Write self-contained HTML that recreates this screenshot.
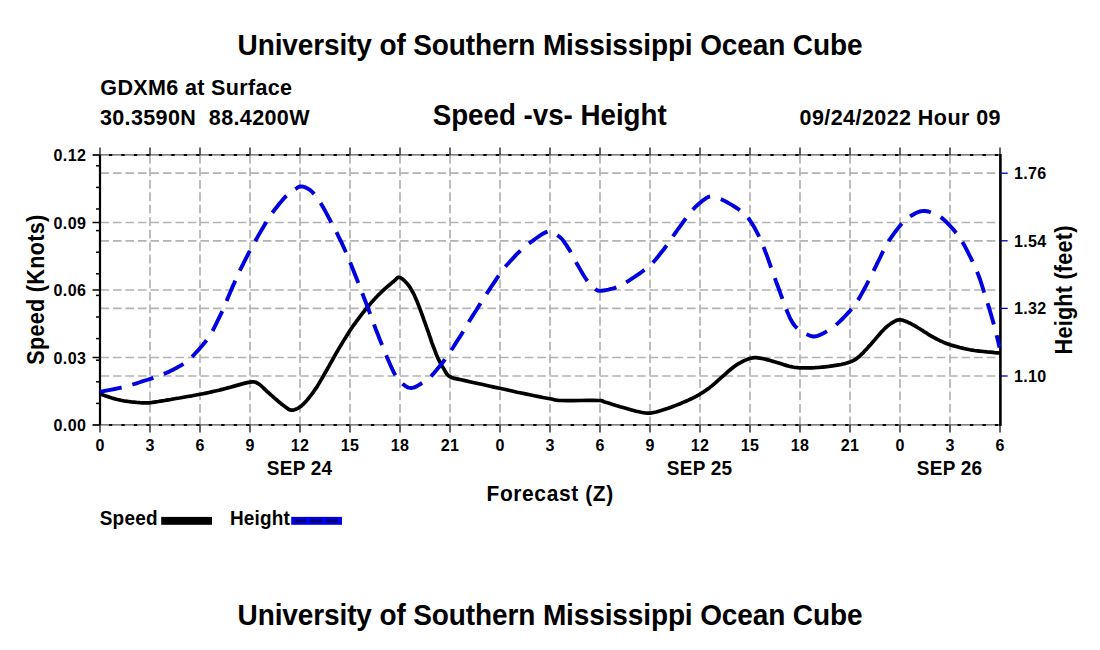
<!DOCTYPE html>
<html><head><meta charset="utf-8"><style>
html,body{margin:0;padding:0;background:#fff;}
svg{display:block;}
text{font-family:"Liberation Sans",sans-serif;font-weight:bold;fill:#000;}
</style></head><body>
<svg width="1100" height="650" viewBox="0 0 1100 650">
<rect width="1100" height="650" fill="#fff"/>
<line x1="150" y1="155" x2="150" y2="425" stroke="#b3b3b3" stroke-width="1.7" stroke-dasharray="8.8 3.65"/>
<line x1="200" y1="155" x2="200" y2="425" stroke="#b3b3b3" stroke-width="1.7" stroke-dasharray="8.8 3.65"/>
<line x1="250" y1="155" x2="250" y2="425" stroke="#b3b3b3" stroke-width="1.7" stroke-dasharray="8.8 3.65"/>
<line x1="300" y1="155" x2="300" y2="425" stroke="#b3b3b3" stroke-width="1.7" stroke-dasharray="8.8 3.65"/>
<line x1="350" y1="155" x2="350" y2="425" stroke="#b3b3b3" stroke-width="1.7" stroke-dasharray="8.8 3.65"/>
<line x1="400" y1="155" x2="400" y2="425" stroke="#b3b3b3" stroke-width="1.7" stroke-dasharray="8.8 3.65"/>
<line x1="450" y1="155" x2="450" y2="425" stroke="#b3b3b3" stroke-width="1.7" stroke-dasharray="8.8 3.65"/>
<line x1="500" y1="155" x2="500" y2="425" stroke="#b3b3b3" stroke-width="1.7" stroke-dasharray="8.8 3.65"/>
<line x1="550" y1="155" x2="550" y2="425" stroke="#b3b3b3" stroke-width="1.7" stroke-dasharray="8.8 3.65"/>
<line x1="600" y1="155" x2="600" y2="425" stroke="#b3b3b3" stroke-width="1.7" stroke-dasharray="8.8 3.65"/>
<line x1="650" y1="155" x2="650" y2="425" stroke="#b3b3b3" stroke-width="1.7" stroke-dasharray="8.8 3.65"/>
<line x1="700" y1="155" x2="700" y2="425" stroke="#b3b3b3" stroke-width="1.7" stroke-dasharray="8.8 3.65"/>
<line x1="750" y1="155" x2="750" y2="425" stroke="#b3b3b3" stroke-width="1.7" stroke-dasharray="8.8 3.65"/>
<line x1="800" y1="155" x2="800" y2="425" stroke="#b3b3b3" stroke-width="1.7" stroke-dasharray="8.8 3.65"/>
<line x1="850" y1="155" x2="850" y2="425" stroke="#b3b3b3" stroke-width="1.7" stroke-dasharray="8.8 3.65"/>
<line x1="900" y1="155" x2="900" y2="425" stroke="#b3b3b3" stroke-width="1.7" stroke-dasharray="8.8 3.65"/>
<line x1="950" y1="155" x2="950" y2="425" stroke="#b3b3b3" stroke-width="1.7" stroke-dasharray="8.8 3.65"/>
<line x1="100.5" y1="357.5" x2="1000" y2="357.5" stroke="#b3b3b3" stroke-width="1.7" stroke-dasharray="8.6 3.88"/>
<line x1="100.5" y1="290.0" x2="1000" y2="290.0" stroke="#b3b3b3" stroke-width="1.7" stroke-dasharray="8.6 3.88"/>
<line x1="100.5" y1="222.5" x2="1000" y2="222.5" stroke="#b3b3b3" stroke-width="1.7" stroke-dasharray="8.6 3.88"/>
<line x1="100.5" y1="173.2" x2="1000" y2="173.2" stroke="#b3b3b3" stroke-width="1.7" stroke-dasharray="8.6 3.88"/>
<line x1="100.5" y1="240.79999999999995" x2="1000" y2="240.79999999999995" stroke="#b3b3b3" stroke-width="1.7" stroke-dasharray="8.6 3.88"/>
<line x1="100.5" y1="308.4" x2="1000" y2="308.4" stroke="#b3b3b3" stroke-width="1.7" stroke-dasharray="8.6 3.88"/>
<line x1="100.5" y1="375.99999999999994" x2="1000" y2="375.99999999999994" stroke="#b3b3b3" stroke-width="1.7" stroke-dasharray="8.6 3.88"/>
<line x1="93" y1="154.8" x2="1000" y2="154.8" stroke="#585858" stroke-width="1.2"/>
<line x1="100" y1="155" x2="1000" y2="155" stroke="#000" stroke-width="2.2" stroke-dasharray="3.3 9.18" stroke-dashoffset="-8.9"/>
<line x1="93" y1="424.8" x2="1000" y2="424.8" stroke="#585858" stroke-width="1.2"/>
<line x1="100" y1="425" x2="1000" y2="425" stroke="#000" stroke-width="2.2" stroke-dasharray="3.3 9.18" stroke-dashoffset="-8.9"/>
<line x1="100" y1="147.5" x2="100" y2="155" stroke="#333" stroke-width="1.5"/>
<line x1="100" y1="425" x2="100" y2="432.5" stroke="#333" stroke-width="1.5"/>
<line x1="150" y1="147.5" x2="150" y2="155" stroke="#333" stroke-width="1.5"/>
<line x1="150" y1="425" x2="150" y2="432.5" stroke="#333" stroke-width="1.5"/>
<line x1="200" y1="147.5" x2="200" y2="155" stroke="#333" stroke-width="1.5"/>
<line x1="200" y1="425" x2="200" y2="432.5" stroke="#333" stroke-width="1.5"/>
<line x1="250" y1="147.5" x2="250" y2="155" stroke="#333" stroke-width="1.5"/>
<line x1="250" y1="425" x2="250" y2="432.5" stroke="#333" stroke-width="1.5"/>
<line x1="300" y1="147.5" x2="300" y2="155" stroke="#333" stroke-width="1.5"/>
<line x1="300" y1="425" x2="300" y2="432.5" stroke="#333" stroke-width="1.5"/>
<line x1="350" y1="147.5" x2="350" y2="155" stroke="#333" stroke-width="1.5"/>
<line x1="350" y1="425" x2="350" y2="432.5" stroke="#333" stroke-width="1.5"/>
<line x1="400" y1="147.5" x2="400" y2="155" stroke="#333" stroke-width="1.5"/>
<line x1="400" y1="425" x2="400" y2="432.5" stroke="#333" stroke-width="1.5"/>
<line x1="450" y1="147.5" x2="450" y2="155" stroke="#333" stroke-width="1.5"/>
<line x1="450" y1="425" x2="450" y2="432.5" stroke="#333" stroke-width="1.5"/>
<line x1="500" y1="147.5" x2="500" y2="155" stroke="#333" stroke-width="1.5"/>
<line x1="500" y1="425" x2="500" y2="432.5" stroke="#333" stroke-width="1.5"/>
<line x1="550" y1="147.5" x2="550" y2="155" stroke="#333" stroke-width="1.5"/>
<line x1="550" y1="425" x2="550" y2="432.5" stroke="#333" stroke-width="1.5"/>
<line x1="600" y1="147.5" x2="600" y2="155" stroke="#333" stroke-width="1.5"/>
<line x1="600" y1="425" x2="600" y2="432.5" stroke="#333" stroke-width="1.5"/>
<line x1="650" y1="147.5" x2="650" y2="155" stroke="#333" stroke-width="1.5"/>
<line x1="650" y1="425" x2="650" y2="432.5" stroke="#333" stroke-width="1.5"/>
<line x1="700" y1="147.5" x2="700" y2="155" stroke="#333" stroke-width="1.5"/>
<line x1="700" y1="425" x2="700" y2="432.5" stroke="#333" stroke-width="1.5"/>
<line x1="750" y1="147.5" x2="750" y2="155" stroke="#333" stroke-width="1.5"/>
<line x1="750" y1="425" x2="750" y2="432.5" stroke="#333" stroke-width="1.5"/>
<line x1="800" y1="147.5" x2="800" y2="155" stroke="#333" stroke-width="1.5"/>
<line x1="800" y1="425" x2="800" y2="432.5" stroke="#333" stroke-width="1.5"/>
<line x1="850" y1="147.5" x2="850" y2="155" stroke="#333" stroke-width="1.5"/>
<line x1="850" y1="425" x2="850" y2="432.5" stroke="#333" stroke-width="1.5"/>
<line x1="900" y1="147.5" x2="900" y2="155" stroke="#333" stroke-width="1.5"/>
<line x1="900" y1="425" x2="900" y2="432.5" stroke="#333" stroke-width="1.5"/>
<line x1="950" y1="147.5" x2="950" y2="155" stroke="#333" stroke-width="1.5"/>
<line x1="950" y1="425" x2="950" y2="432.5" stroke="#333" stroke-width="1.5"/>
<line x1="1000" y1="147.5" x2="1000" y2="155" stroke="#333" stroke-width="1.5"/>
<line x1="1000" y1="425" x2="1000" y2="432.5" stroke="#333" stroke-width="1.5"/>
<line x1="100" y1="155" x2="100" y2="425" stroke="#000" stroke-width="2.2"/>
<line x1="92.5" y1="425.0" x2="100" y2="425.0" stroke="#000" stroke-width="1.5"/>
<line x1="92.5" y1="357.5" x2="100" y2="357.5" stroke="#000" stroke-width="1.5"/>
<line x1="92.5" y1="290.0" x2="100" y2="290.0" stroke="#000" stroke-width="1.5"/>
<line x1="92.5" y1="222.5" x2="100" y2="222.5" stroke="#000" stroke-width="1.5"/>
<line x1="92.5" y1="155.0" x2="100" y2="155.0" stroke="#000" stroke-width="1.5"/>
<line x1="96" y1="403.4" x2="100" y2="403.4" stroke="#000" stroke-width="1.5"/>
<line x1="96" y1="381.8" x2="100" y2="381.8" stroke="#000" stroke-width="1.5"/>
<line x1="96" y1="360.2" x2="100" y2="360.2" stroke="#000" stroke-width="1.5"/>
<line x1="96" y1="338.6" x2="100" y2="338.6" stroke="#000" stroke-width="1.5"/>
<line x1="96" y1="317.0" x2="100" y2="317.0" stroke="#000" stroke-width="1.5"/>
<line x1="96" y1="295.4" x2="100" y2="295.4" stroke="#000" stroke-width="1.5"/>
<line x1="96" y1="273.8" x2="100" y2="273.8" stroke="#000" stroke-width="1.5"/>
<line x1="96" y1="252.2" x2="100" y2="252.2" stroke="#000" stroke-width="1.5"/>
<line x1="96" y1="230.6" x2="100" y2="230.6" stroke="#000" stroke-width="1.5"/>
<line x1="96" y1="209.0" x2="100" y2="209.0" stroke="#000" stroke-width="1.5"/>
<line x1="96" y1="187.4" x2="100" y2="187.4" stroke="#000" stroke-width="1.5"/>
<line x1="96" y1="165.8" x2="100" y2="165.8" stroke="#000" stroke-width="1.5"/>
<line x1="1000.4" y1="154" x2="1000.4" y2="426" stroke="#000" stroke-width="2.6"/>
<line x1="1000" y1="173.2" x2="1007.7" y2="173.2" stroke="#0000a0" stroke-width="1.3"/>
<line x1="1000" y1="240.79999999999995" x2="1007.7" y2="240.79999999999995" stroke="#0000a0" stroke-width="1.3"/>
<line x1="1000" y1="308.4" x2="1007.7" y2="308.4" stroke="#0000a0" stroke-width="1.3"/>
<line x1="1000" y1="375.99999999999994" x2="1007.7" y2="375.99999999999994" stroke="#0000a0" stroke-width="1.3"/>
<path d="M100.0,393.8 L101.3,394.3 L103.0,394.9 L105.1,395.7 L107.4,396.5 L109.7,397.3 L111.9,398.0 L114.1,398.6 L116.3,399.2 L118.5,399.7 L120.8,400.3 L123.2,400.7 L125.7,401.2 L128.4,401.5 L131.3,401.9 L134.3,402.2 L137.3,402.5 L140.0,402.7 L142.3,402.8 L144.1,402.9 L145.5,402.9 L146.7,402.9 L147.9,402.9 L149.1,402.8 L150.6,402.6 L152.4,402.4 L154.3,402.1 L156.3,401.8 L158.4,401.5 L160.5,401.1 L162.6,400.8 L164.6,400.5 L166.6,400.1 L168.6,399.8 L170.7,399.5 L173.1,399.0 L176.0,398.5 L179.5,398.0 L183.5,397.3 L187.7,396.5 L192.1,395.8 L196.2,395.0 L199.9,394.3 L203.1,393.7 L206.1,393.1 L208.9,392.5 L211.5,391.9 L214.1,391.3 L216.6,390.7 L219.0,390.2 L221.2,389.6 L223.3,389.1 L225.5,388.5 L227.8,387.9 L230.4,387.2 L233.4,386.4 L236.9,385.4 L240.5,384.4 L244.0,383.4 L247.2,382.6 L249.8,382.1 L251.8,381.9 L253.3,381.8 L254.6,382.0 L255.6,382.3 L256.7,382.8 L258.0,383.5 L259.4,384.4 L260.9,385.6 L262.4,387.0 L263.9,388.4 L265.4,389.9 L266.9,391.3 L268.3,392.5 L269.8,393.8 L271.2,395.1 L272.6,396.3 L274.0,397.6 L275.4,398.8 L276.8,400.0 L278.3,401.3 L279.7,402.5 L281.1,403.7 L282.5,404.8 L283.9,405.8 L285.2,406.7 L286.5,407.7 L287.7,408.6 L288.9,409.4 L290.2,409.9 L291.5,410.2 L292.9,410.2 L294.3,409.8 L295.7,409.3 L297.2,408.6 L298.6,407.8 L300.0,406.9 L301.4,405.9 L302.7,404.7 L304.1,403.3 L305.4,401.9 L306.8,400.4 L308.1,398.8 L309.5,397.2 L310.8,395.5 L312.2,393.6 L313.5,391.8 L314.9,389.8 L316.2,387.9 L317.5,385.9 L318.7,383.9 L320.0,381.8 L321.2,379.7 L322.5,377.5 L323.7,375.4 L324.9,373.2 L326.2,371.0 L327.4,368.8 L328.7,366.6 L329.9,364.4 L331.2,362.1 L332.4,360.0 L333.6,357.9 L334.7,355.8 L335.9,353.6 L337.3,351.3 L338.8,348.7 L340.6,345.7 L342.6,342.4 L344.7,338.9 L346.9,335.5 L348.9,332.2 L350.8,329.3 L352.4,326.9 L354.0,324.7 L355.4,322.8 L356.7,321.0 L358.1,319.2 L359.4,317.4 L360.7,315.7 L361.9,314.1 L363.1,312.5 L364.4,311.0 L365.6,309.5 L366.9,307.9 L368.3,306.3 L369.7,304.6 L371.1,302.9 L372.6,301.2 L374.1,299.6 L375.6,297.9 L377.2,296.3 L378.8,294.6 L380.5,293.0 L382.1,291.4 L383.7,289.9 L385.3,288.4 L386.8,287.1 L388.4,285.7 L389.9,284.5 L391.3,283.3 L392.6,282.2 L393.9,281.2 L395.0,280.2 L395.9,279.2 L396.7,278.4 L397.6,277.7 L398.5,277.3 L399.6,277.4 L400.9,278.0 L402.3,278.9 L403.9,280.2 L405.4,281.7 L406.9,283.3 L408.3,285.0 L409.6,286.8 L410.8,288.7 L412.0,290.9 L413.2,293.0 L414.3,295.2 L415.3,297.4 L416.2,299.4 L417.1,301.4 L417.8,303.3 L418.6,305.4 L419.5,307.7 L420.4,310.2 L421.5,313.1 L422.7,316.4 L423.9,319.9 L425.2,323.4 L426.4,326.8 L427.5,329.9 L428.5,332.7 L429.4,335.4 L430.3,337.9 L431.1,340.4 L431.9,342.8 L432.8,345.1 L433.7,347.5 L434.6,349.9 L435.5,352.2 L436.3,354.4 L437.2,356.6 L438.1,358.6 L439.0,360.4 L439.8,362.1 L440.7,363.6 L441.6,365.1 L442.5,366.6 L443.4,368.1 L444.3,369.6 L445.1,371.1 L445.9,372.6 L446.8,374.0 L448.0,375.4 L449.6,376.5 L451.4,377.4 L453.3,378.1 L455.5,378.6 L458.1,379.1 L461.2,379.7 L465.0,380.6 L469.7,381.7 L475.4,383.0 L481.6,384.3 L487.9,385.7 L494.0,387.1 L499.5,388.3 L504.3,389.3 L508.8,390.3 L513.1,391.3 L517.2,392.2 L521.3,393.0 L525.5,393.9 L529.8,394.8 L534.3,395.7 L538.8,396.6 L543.0,397.5 L546.9,398.2 L550.2,398.8 L552.6,399.3 L554.1,399.7 L555.3,400.0 L556.6,400.2 L558.6,400.4 L561.8,400.5 L566.8,400.6 L573.2,400.6 L580.3,400.5 L587.3,400.4 L593.5,400.4 L598.2,400.5 L600.9,400.6 L602.2,400.8 L602.8,401.0 L603.1,401.2 L603.8,401.7 L605.5,402.2 L608.4,403.1 L612.0,404.2 L616.0,405.4 L620.1,406.7 L624.0,407.8 L627.5,408.8 L630.6,409.7 L633.5,410.5 L636.2,411.2 L638.8,411.8 L641.2,412.3 L643.5,412.7 L645.4,413.0 L647.0,413.1 L648.5,413.2 L649.9,413.1 L651.6,412.9 L653.6,412.5 L656.1,412.0 L658.9,411.2 L661.9,410.3 L665.0,409.3 L668.1,408.3 L671.1,407.2 L674.1,406.1 L677.1,404.9 L680.2,403.7 L683.1,402.4 L685.9,401.2 L688.5,400.1 L690.8,399.0 L692.8,398.1 L694.7,397.1 L696.5,396.2 L698.3,395.2 L700.2,394.0 L702.1,392.8 L704.1,391.6 L706.0,390.2 L707.9,388.9 L709.9,387.4 L711.8,385.9 L713.7,384.3 L715.6,382.7 L717.6,380.9 L719.5,379.2 L721.5,377.4 L723.5,375.6 L725.6,373.8 L727.7,371.9 L729.9,370.0 L732.1,368.2 L734.3,366.5 L736.5,364.9 L738.7,363.6 L741.0,362.3 L743.2,361.1 L745.4,360.1 L747.6,359.2 L749.6,358.5 L751.4,358.1 L753.0,357.8 L754.6,357.7 L756.2,357.7 L757.9,357.9 L759.8,358.1 L762.0,358.5 L764.4,359.0 L766.9,359.6 L769.4,360.3 L772.0,361.1 L774.5,361.8 L777.0,362.5 L779.5,363.3 L782.0,364.1 L784.5,364.9 L786.9,365.6 L789.1,366.2 L791.0,366.6 L792.7,367.0 L794.3,367.3 L796.0,367.5 L797.8,367.7 L800.0,367.8 L802.6,367.9 L805.4,367.9 L808.5,367.9 L811.7,367.8 L815.0,367.7 L818.2,367.5 L821.6,367.2 L825.1,366.8 L828.8,366.4 L832.3,365.9 L835.6,365.4 L838.5,364.9 L841.0,364.5 L843.1,364.0 L845.1,363.6 L846.8,363.1 L848.5,362.5 L850.2,361.9 L851.8,361.2 L853.2,360.6 L854.6,359.9 L855.9,359.1 L857.3,358.0 L858.9,356.8 L860.6,355.2 L862.5,353.4 L864.4,351.3 L866.4,349.2 L868.4,346.9 L870.5,344.7 L872.6,342.3 L874.9,339.6 L877.2,336.9 L879.5,334.2 L881.6,331.8 L883.6,329.7 L885.3,328.0 L886.9,326.6 L888.3,325.4 L889.7,324.4 L891.0,323.4 L892.4,322.6 L893.7,321.8 L895.0,321.1 L896.2,320.5 L897.5,320.1 L898.8,319.9 L900.2,319.8 L901.7,320.0 L903.3,320.4 L905.0,321.0 L906.6,321.7 L908.3,322.5 L910.0,323.2 L911.7,324.1 L913.3,325.0 L915.0,325.9 L916.7,327.0 L918.3,328.0 L920.0,329.0 L921.7,330.0 L923.3,331.1 L925.0,332.2 L926.7,333.2 L928.3,334.3 L930.0,335.3 L931.7,336.3 L933.3,337.2 L935.0,338.1 L936.7,339.0 L938.3,339.9 L940.0,340.7 L941.6,341.4 L943.1,342.1 L944.7,342.8 L946.3,343.4 L948.0,344.0 L950.0,344.7 L952.2,345.4 L954.6,346.1 L957.2,346.8 L959.8,347.5 L962.4,348.1 L965.0,348.7 L967.4,349.2 L969.8,349.7 L972.2,350.1 L974.6,350.5 L977.2,350.8 L980.0,351.2 L983.3,351.5 L987.0,351.9 L990.9,352.2 L994.6,352.6 L997.8,352.8 L1000.0,353.0" fill="none" stroke="#000" stroke-width="3.7" stroke-linejoin="round"/>
<path d="M100.0,391.9 L102.5,391.4 L106.1,390.7 L110.3,389.9 L114.7,389.0 L118.7,388.1 L122.0,387.4 L124.3,386.9 L126.0,386.5 L127.4,386.1 L128.7,385.7 L130.4,385.2 L132.6,384.5 L135.6,383.6 L139.1,382.5 L143.0,381.2 L146.8,380.0 L150.4,378.8 L153.4,377.8 L155.9,376.9 L158.0,376.1 L159.9,375.4 L161.6,374.7 L163.1,374.1 L164.5,373.6 L165.7,373.1 L166.7,372.7 L167.4,372.4 L168.2,372.1 L169.0,371.7 L170.0,371.2 L171.2,370.6 L172.6,369.9 L174.0,369.2 L175.4,368.4 L176.8,367.7 L178.0,367.0 L179.1,366.4 L180.0,365.9 L180.8,365.5 L181.7,364.9 L182.7,364.3 L183.8,363.5 L185.1,362.5 L186.4,361.5 L187.9,360.4 L189.5,359.1 L191.2,357.6 L193.0,355.8 L195.1,353.5 L197.6,350.9 L200.1,348.0 L202.7,345.1 L205.0,342.3 L206.9,339.9 L208.3,338.1 L209.4,336.6 L210.2,335.3 L211.0,333.9 L211.9,332.3 L213.0,330.2 L214.4,327.4 L216.0,324.2 L217.7,320.6 L219.4,317.1 L221.0,313.8 L222.3,311.0 L223.3,308.8 L224.0,307.1 L224.7,305.6 L225.3,304.1 L226.0,302.4 L226.9,300.2 L228.1,297.3 L229.5,294.0 L231.0,290.5 L232.5,286.9 L234.0,283.6 L235.2,280.7 L236.2,278.5 L237.0,276.7 L237.7,275.2 L238.4,273.6 L239.2,271.9 L240.3,269.7 L241.6,267.0 L243.2,263.9 L244.8,260.6 L246.5,257.3 L248.1,254.1 L249.6,251.3 L250.8,249.0 L251.9,247.0 L252.9,245.1 L254.0,243.3 L255.1,241.3 L256.4,239.1 L257.9,236.4 L259.6,233.4 L261.4,230.3 L263.3,227.2 L265.0,224.3 L266.5,221.8 L267.8,219.7 L268.8,218.0 L269.8,216.5 L270.8,215.0 L271.9,213.4 L273.3,211.5 L275.0,209.3 L277.0,206.7 L279.1,204.0 L281.3,201.4 L283.5,198.9 L285.5,196.7 L287.5,194.9 L289.5,193.2 L291.4,191.7 L293.3,190.4 L295.0,189.2 L296.5,188.3 L297.7,187.5 L298.7,187.0 L299.5,186.7 L300.2,186.5 L301.0,186.5 L301.9,186.5 L302.9,186.6 L303.9,186.9 L305.0,187.2 L306.0,187.7 L307.1,188.2 L308.1,188.8 L309.1,189.4 L310.1,190.1 L311.1,190.9 L312.1,191.8 L313.1,192.9 L314.2,194.1 L315.4,195.5 L316.6,197.1 L317.8,198.9 L319.2,200.8 L320.5,202.9 L321.9,205.2 L323.4,207.7 L325.0,210.6 L326.6,213.7 L328.3,216.8 L329.8,219.7 L331.2,222.3 L332.4,224.4 L333.4,226.3 L334.3,227.9 L335.2,229.6 L336.1,231.5 L337.3,233.9 L338.6,236.6 L340.1,239.5 L341.6,242.7 L343.1,246.0 L344.8,249.7 L346.5,253.6 L348.3,257.8 L350.2,262.5 L352.2,267.5 L354.2,272.5 L356.2,277.4 L358.0,282.1 L359.7,286.5 L361.3,290.6 L362.9,294.7 L364.4,298.8 L366.1,303.1 L367.8,307.7 L369.7,312.6 L371.6,317.8 L373.6,323.2 L375.6,328.7 L377.8,334.2 L379.9,339.7 L382.2,345.3 L384.6,351.3 L387.0,357.3 L389.5,363.0 L391.8,368.2 L393.8,372.4 L395.6,375.6 L397.1,378.1 L398.6,380.0 L399.9,381.4 L401.3,382.7 L402.7,383.9 L404.2,385.1 L405.6,386.2 L407.0,387.0 L408.4,387.6 L409.9,387.9 L411.5,388.0 L413.2,387.7 L415.0,387.1 L416.8,386.2 L418.6,385.1 L420.5,384.0 L422.2,382.9 L423.8,381.9 L425.4,380.8 L426.9,379.8 L428.4,378.5 L430.1,377.1 L431.9,375.3 L434.0,373.0 L436.3,370.3 L438.8,367.3 L441.2,364.3 L443.4,361.5 L445.2,359.1 L446.6,357.3 L447.6,355.9 L448.4,354.8 L449.1,353.5 L450.1,352.0 L451.4,350.0 L453.2,347.2 L455.3,343.9 L457.6,340.3 L460.0,336.7 L462.1,333.3 L463.8,330.6 L465.0,328.5 L465.9,327.0 L466.6,325.8 L467.2,324.6 L468.1,323.2 L469.2,321.3 L470.8,318.8 L472.6,315.9 L474.6,312.7 L476.7,309.5 L478.6,306.4 L480.3,303.8 L481.7,301.6 L482.9,299.7 L484.0,297.9 L485.1,296.2 L486.3,294.3 L487.7,292.2 L489.4,289.6 L491.2,286.8 L493.2,283.8 L495.2,280.8 L497.0,278.1 L498.7,275.6 L500.1,273.7 L501.2,272.1 L502.2,270.7 L503.2,269.3 L504.5,267.7 L506.1,265.8 L508.2,263.5 L510.7,260.7 L513.4,257.8 L516.1,254.9 L518.7,252.3 L520.9,250.1 L522.7,248.4 L524.0,247.1 L525.3,246.1 L526.6,245.1 L528.1,244.0 L530.1,242.6 L532.7,240.8 L535.8,238.5 L539.2,236.2 L542.5,234.0 L545.6,232.3 L548.3,231.3 L550.5,231.1 L552.3,231.6 L554.0,232.4 L555.4,233.6 L556.8,234.7 L558.1,235.7 L559.3,236.6 L560.3,237.4 L561.2,238.3 L562.1,239.2 L563.0,240.4 L564.0,241.7 L565.1,243.3 L566.4,245.1 L567.6,247.1 L568.9,249.1 L570.1,251.1 L571.2,253.0 L572.1,254.6 L572.9,256.1 L573.6,257.5 L574.3,259.1 L575.2,260.8 L576.4,262.9 L577.9,265.4 L579.6,268.4 L581.4,271.6 L583.4,274.9 L585.2,277.8 L586.9,280.3 L588.5,282.3 L590.0,284.1 L591.5,285.7 L592.9,287.0 L594.2,288.1 L595.4,289.1 L596.4,289.8 L597.2,290.3 L597.9,290.6 L598.7,290.7 L599.5,290.8 L600.6,290.8 L602.0,290.7 L603.5,290.5 L605.2,290.3 L606.9,289.9 L608.5,289.6 L610.0,289.2 L611.2,288.9 L612.3,288.7 L613.3,288.4 L614.4,288.1 L615.5,287.6 L616.8,287.1 L618.2,286.5 L619.6,285.8 L621.2,285.1 L622.9,284.2 L624.8,283.2 L627.0,281.8 L629.7,280.1 L633.0,278.0 L636.4,275.6 L639.8,273.3 L643.0,271.0 L645.6,269.1 L647.5,267.6 L649.0,266.5 L650.2,265.4 L651.3,264.4 L652.5,263.0 L654.1,261.3 L656.1,258.9 L658.5,256.0 L661.0,252.8 L663.5,249.7 L665.7,246.8 L667.6,244.3 L668.9,242.5 L669.9,241.1 L670.6,240.0 L671.3,238.8 L672.2,237.4 L673.5,235.5 L675.3,233.0 L677.4,230.0 L679.7,226.8 L682.1,223.6 L684.3,220.5 L686.2,218.0 L687.7,215.9 L689.0,214.2 L690.1,212.8 L691.2,211.4 L692.4,210.0 L693.8,208.6 L695.4,206.9 L697.3,205.2 L699.2,203.5 L701.1,201.9 L702.9,200.4 L704.5,199.3 L705.8,198.4 L707.0,197.6 L708.0,197.1 L709.1,196.7 L710.3,196.5 L711.7,196.5 L713.4,196.7 L715.1,197.1 L717.1,197.7 L719.1,198.4 L721.3,199.3 L723.6,200.4 L726.2,201.8 L729.1,203.4 L732.1,205.1 L735.1,207.0 L737.9,208.8 L740.3,210.6 L742.3,212.1 L744.0,213.6 L745.5,215.0 L747.0,216.6 L748.4,218.3 L749.9,220.3 L751.5,222.7 L753.2,225.4 L754.8,228.3 L756.4,231.3 L758.0,234.3 L759.4,237.3 L760.7,240.2 L762.0,243.0 L763.1,245.9 L764.3,248.8 L765.4,251.8 L766.6,254.9 L767.8,258.1 L768.9,261.3 L770.1,264.6 L771.2,267.9 L772.5,271.5 L773.8,275.2 L775.3,279.3 L776.9,283.8 L778.7,288.5 L780.3,293.1 L781.8,297.2 L783.1,300.6 L784.0,303.2 L784.7,305.1 L785.3,306.6 L785.8,307.9 L786.3,309.2 L786.9,310.7 L787.6,312.4 L788.3,314.1 L789.1,315.9 L789.8,317.6 L790.7,319.3 L791.5,320.8 L792.3,322.2 L793.2,323.6 L794.0,324.8 L795.0,326.0 L796.1,327.2 L797.3,328.4 L798.8,329.6 L800.5,330.8 L802.4,331.9 L804.2,333.0 L806.0,334.0 L807.7,334.7 L809.1,335.3 L810.4,335.9 L811.7,336.2 L812.9,336.5 L814.3,336.5 L815.8,336.3 L817.5,335.8 L819.4,335.1 L821.4,334.2 L823.4,333.2 L825.4,332.1 L827.3,331.0 L829.1,329.9 L830.7,328.9 L832.4,327.8 L834.0,326.5 L835.8,325.1 L837.7,323.4 L839.9,321.4 L842.3,319.0 L844.7,316.5 L847.2,313.9 L849.5,311.4 L851.5,309.0 L853.2,307.0 L854.6,305.1 L855.8,303.4 L857.0,301.6 L858.3,299.6 L859.6,297.4 L861.1,294.8 L862.7,291.9 L864.4,288.8 L866.0,285.8 L867.5,282.9 L868.8,280.4 L869.9,278.3 L870.8,276.5 L871.5,275.0 L872.3,273.4 L873.2,271.6 L874.3,269.4 L875.7,266.6 L877.2,263.4 L878.9,260.0 L880.6,256.5 L882.1,253.3 L883.5,250.6 L884.6,248.5 L885.4,246.8 L886.1,245.4 L886.8,244.0 L887.8,242.4 L889.1,240.4 L890.9,237.9 L893.0,234.9 L895.3,231.7 L897.7,228.6 L900.0,225.7 L902.0,223.3 L903.7,221.5 L905.3,220.0 L906.8,218.7 L908.2,217.7 L909.6,216.7 L911.2,215.7 L912.9,214.7 L914.6,213.7 L916.4,212.8 L918.2,212.1 L920.0,211.5 L921.7,211.1 L923.4,210.9 L925.0,211.0 L926.6,211.2 L928.2,211.5 L929.8,212.0 L931.5,212.6 L933.2,213.2 L935.0,213.9 L936.8,214.7 L938.6,215.7 L940.5,217.0 L942.4,218.4 L944.5,220.2 L946.7,222.3 L948.9,224.6 L951.1,227.0 L953.2,229.4 L955.1,231.6 L956.8,233.7 L958.3,235.7 L959.7,237.7 L961.0,239.8 L962.3,241.9 L963.7,244.3 L965.2,246.9 L966.6,249.7 L968.1,252.6 L969.6,255.5 L971.0,258.4 L972.3,261.1 L973.5,263.7 L974.6,266.1 L975.7,268.5 L976.7,270.9 L977.7,273.3 L978.7,275.8 L979.7,278.5 L980.6,281.2 L981.5,284.0 L982.4,286.8 L983.3,289.5 L984.1,292.1 L984.9,294.5 L985.6,296.7 L986.2,298.8 L986.9,301.0 L987.6,303.3 L988.4,305.8 L989.3,308.6 L990.2,311.8 L991.2,315.1 L992.1,318.3 L993.0,321.4 L993.8,324.2 L994.5,326.7 L995.1,328.9 L995.6,331.0 L996.1,332.9 L996.5,334.9 L997.0,336.8 L997.5,338.8 L998.0,340.9 L998.5,342.9 L998.9,344.8 L999.2,346.4 L999.5,347.5" fill="none" stroke="#0000e0" stroke-width="3.9" stroke-dasharray="22.1 11.08"/>
<text transform="translate(237.60,54.90) scale(0.94,1)" font-size="29.8" letter-spacing="-0.126" text-anchor="start">University of Southern Mississippi Ocean Cube</text>
<text transform="translate(237.60,624.90) scale(0.94,1)" font-size="29.8" letter-spacing="-0.126" text-anchor="start">University of Southern Mississippi Ocean Cube</text>
<text transform="translate(100.30,94.90) scale(0.94,1)" font-size="22.9" letter-spacing="0.369" text-anchor="start">GDXM6 at Surface</text>
<text transform="translate(99.90,125.00) scale(0.94,1)" font-size="22.9" letter-spacing="0.388" text-anchor="start">30.3590N&#160;&#160;88.4200W</text>
<text transform="translate(432.70,124.90) scale(0.94,1)" font-size="29.5" letter-spacing="-0.007" text-anchor="start">Speed -vs- Height</text>
<text transform="translate(799.50,125.30) scale(0.94,1)" font-size="22.9" letter-spacing="0.451" text-anchor="start">09/24/2022 Hour 09</text>
<text transform="translate(86.30,431.20) scale(0.94,1)" font-size="17.1" letter-spacing="0.400" text-anchor="end">0.00</text>
<text transform="translate(86.30,363.70) scale(0.94,1)" font-size="17.1" letter-spacing="0.400" text-anchor="end">0.03</text>
<text transform="translate(86.30,296.20) scale(0.94,1)" font-size="17.1" letter-spacing="0.400" text-anchor="end">0.06</text>
<text transform="translate(86.30,228.70) scale(0.94,1)" font-size="17.1" letter-spacing="0.400" text-anchor="end">0.09</text>
<text transform="translate(86.30,161.20) scale(0.94,1)" font-size="17.1" letter-spacing="0.400" text-anchor="end">0.12</text>
<text transform="translate(1014.00,179.10) scale(0.94,1)" font-size="17.1" letter-spacing="0.355" text-anchor="start">1.76</text>
<text transform="translate(1014.00,246.70) scale(0.94,1)" font-size="17.1" letter-spacing="0.355" text-anchor="start">1.54</text>
<text transform="translate(1014.00,314.30) scale(0.94,1)" font-size="17.1" letter-spacing="0.355" text-anchor="start">1.32</text>
<text transform="translate(1014.00,381.90) scale(0.94,1)" font-size="17.1" letter-spacing="0.355" text-anchor="start">1.10</text>
<text transform="translate(100.00,450.80) scale(0.94,1)" font-size="17.1" letter-spacing="0.319" text-anchor="middle">0</text>
<text transform="translate(150.00,450.80) scale(0.94,1)" font-size="17.1" letter-spacing="0.319" text-anchor="middle">3</text>
<text transform="translate(200.00,450.80) scale(0.94,1)" font-size="17.1" letter-spacing="0.319" text-anchor="middle">6</text>
<text transform="translate(250.00,450.80) scale(0.94,1)" font-size="17.1" letter-spacing="0.319" text-anchor="middle">9</text>
<text transform="translate(300.00,450.80) scale(0.94,1)" font-size="17.1" letter-spacing="0.319" text-anchor="middle">12</text>
<text transform="translate(350.00,450.80) scale(0.94,1)" font-size="17.1" letter-spacing="0.319" text-anchor="middle">15</text>
<text transform="translate(400.00,450.80) scale(0.94,1)" font-size="17.1" letter-spacing="0.319" text-anchor="middle">18</text>
<text transform="translate(450.00,450.80) scale(0.94,1)" font-size="17.1" letter-spacing="0.319" text-anchor="middle">21</text>
<text transform="translate(500.00,450.80) scale(0.94,1)" font-size="17.1" letter-spacing="0.319" text-anchor="middle">0</text>
<text transform="translate(550.00,450.80) scale(0.94,1)" font-size="17.1" letter-spacing="0.319" text-anchor="middle">3</text>
<text transform="translate(600.00,450.80) scale(0.94,1)" font-size="17.1" letter-spacing="0.319" text-anchor="middle">6</text>
<text transform="translate(650.00,450.80) scale(0.94,1)" font-size="17.1" letter-spacing="0.319" text-anchor="middle">9</text>
<text transform="translate(700.00,450.80) scale(0.94,1)" font-size="17.1" letter-spacing="0.319" text-anchor="middle">12</text>
<text transform="translate(750.00,450.80) scale(0.94,1)" font-size="17.1" letter-spacing="0.319" text-anchor="middle">15</text>
<text transform="translate(800.00,450.80) scale(0.94,1)" font-size="17.1" letter-spacing="0.319" text-anchor="middle">18</text>
<text transform="translate(850.00,450.80) scale(0.94,1)" font-size="17.1" letter-spacing="0.319" text-anchor="middle">21</text>
<text transform="translate(900.00,450.80) scale(0.94,1)" font-size="17.1" letter-spacing="0.319" text-anchor="middle">0</text>
<text transform="translate(950.00,450.80) scale(0.94,1)" font-size="17.1" letter-spacing="0.319" text-anchor="middle">3</text>
<text transform="translate(1000.00,450.80) scale(0.94,1)" font-size="17.1" letter-spacing="0.319" text-anchor="middle">6</text>
<text transform="translate(266.80,474.80) scale(0.94,1)" font-size="20.2" letter-spacing="0.277" text-anchor="start">SEP 24</text>
<text transform="translate(666.80,474.80) scale(0.94,1)" font-size="20.2" letter-spacing="0.277" text-anchor="start">SEP 25</text>
<text transform="translate(916.80,474.80) scale(0.94,1)" font-size="20.2" letter-spacing="0.277" text-anchor="start">SEP 26</text>
<text transform="translate(486.50,500.70) scale(0.94,1)" font-size="22.3" letter-spacing="0.658" text-anchor="start">Forecast (Z)</text>
<text transform="translate(99.70,524.70) scale(0.94,1)" font-size="20.2" letter-spacing="0.266" text-anchor="start">Speed</text>
<rect x="161.2" y="516.9" width="50.8" height="7.9" fill="#000"/>
<text transform="translate(230.00,524.70) scale(0.94,1)" font-size="20.2" letter-spacing="0.170" text-anchor="start">Height</text>
<rect x="291.2" y="516.9" width="50.8" height="7.9" fill="#0000ee"/>
<line x1="294.5" y1="520.9" x2="342" y2="520.9" stroke="#000066" stroke-width="3" stroke-dasharray="11.5 4.5"/>
<text transform="translate(44.30,364.80) rotate(-90) scale(0.94,1)" font-size="23.0" letter-spacing="0.319" text-anchor="start">Speed (Knots)</text>
<text transform="translate(1072.40,354.40) rotate(-90) scale(0.94,1)" font-size="23.0" letter-spacing="0.239" text-anchor="start">Height (feet)</text>
</svg>
</body></html>
